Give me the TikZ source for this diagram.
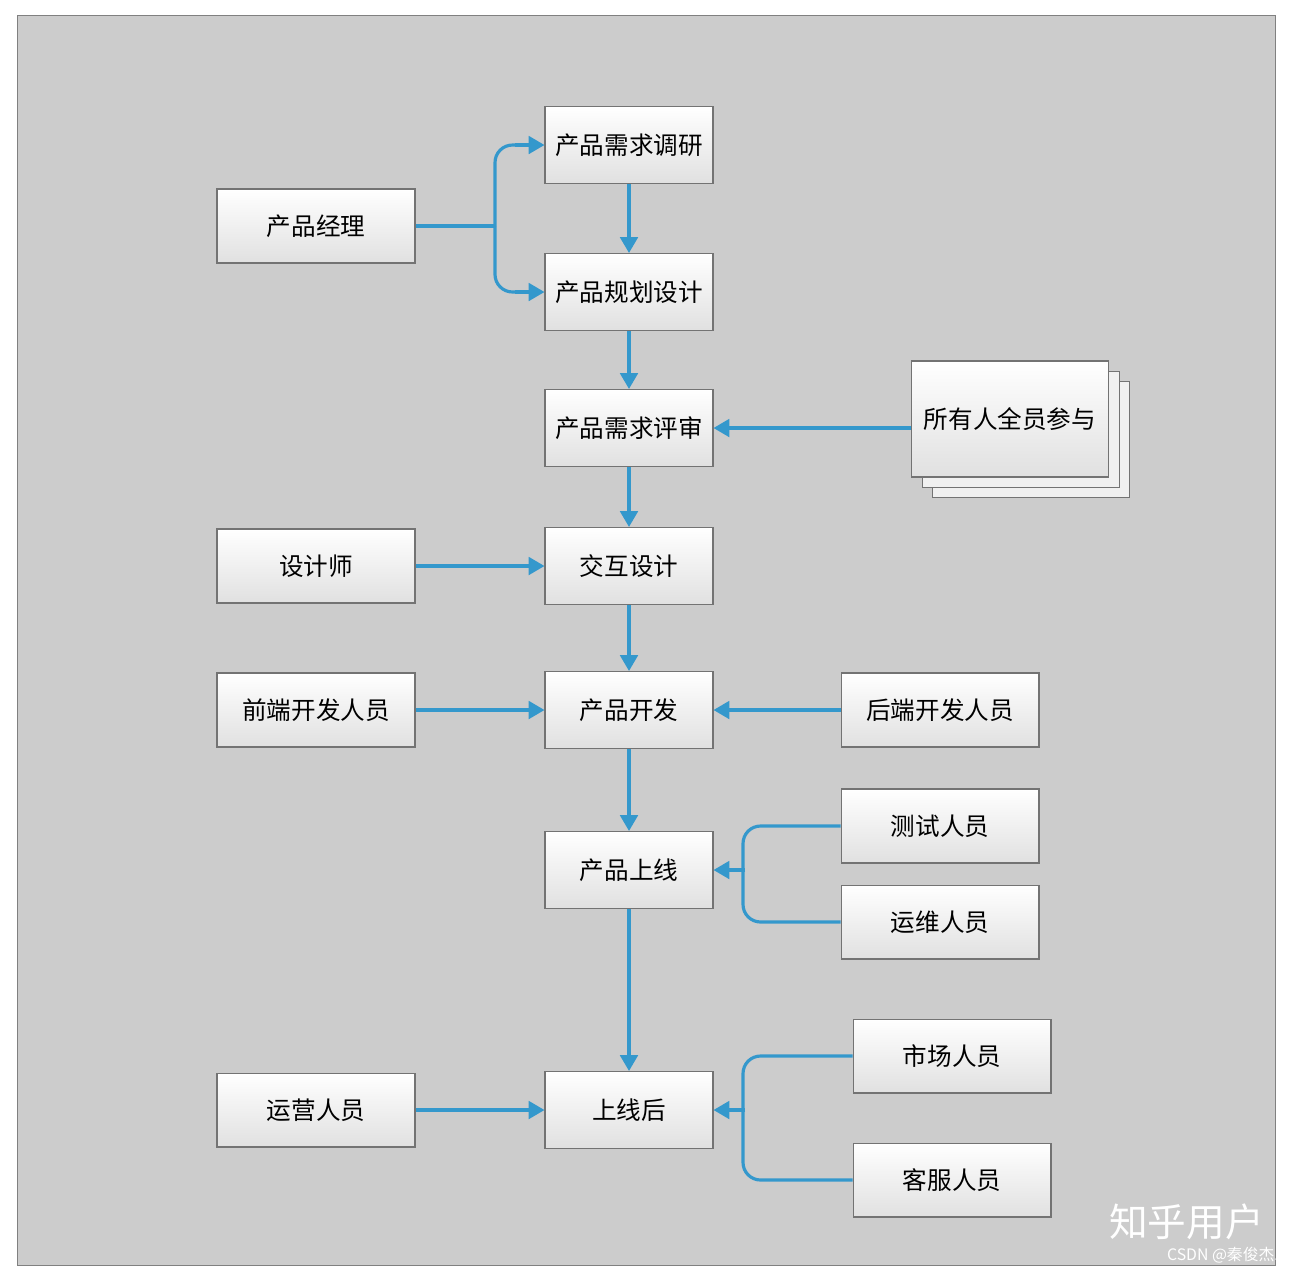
\documentclass[tikz,border=0pt]{standalone}
\usepackage{fontspec}
\setmainfont{Noto Sans CJK SC}
\usetikzlibrary{arrows.meta}
\definecolor{ab}{RGB}{52,152,204}
\definecolor{bg}{RGB}{204,204,204}
\begin{document}
\begin{tikzpicture}[x=0.02cm,y=-0.02cm,
 box/.style={draw=black!55,line width=0.6pt,top color=white,bottom color=black!12,minimum height=1.54cm,minimum width=3.36cm,font=\fontsize{14}{16}\selectfont,inner sep=0pt},
 sbox/.style={box,minimum height=1.48cm,minimum width=3.96cm},
 ar/.style={draw=ab,line width=1.8pt,-{Triangle[length=9pt,width=10pt]}},
 ln/.style={draw=ab,line width=1.8pt,rounded corners=10pt}]
\useasboundingbox (0,0) rectangle (1308,1276);
\fill[white] (0,0) rectangle (1308,1276);
\draw[fill=bg,draw=black!50] (17,15) rectangle (1275,1265);
% main column
\node[box] (a) at (629,145) {产品需求调研};
\node[box] (b) at (629,292) {产品规划设计};
\node[box] (c) at (629,428) {产品需求评审};
\node[box] (d) at (629,566) {交互设计};
\node[box] (e) at (629,710) {产品开发};
\node[box] (f) at (629,870) {产品上线};
\node[box] (g) at (629,1110) {上线后};
% left
\node[sbox] (pm) at (316,226) {产品经理};
\node[sbox] (ds) at (316,566) {设计师};
\node[sbox] (fe) at (316,710) {前端开发人员};
\node[sbox] (op) at (316,1110) {运营人员};
% right
\node[sbox] (be) at (940,710) {后端开发人员};
\node[sbox] (qa) at (940,826) {测试人员};
\node[sbox] (ow) at (940,922) {运维人员};
\node[sbox] (mk) at (952,1056) {市场人员};
\node[sbox] (cs) at (952,1180) {客服人员};
% stacked
\draw[draw=black!55,fill=black!6] (932,381) rectangle (1129,497);
\draw[draw=black!55,fill=black!6] (922,371) rectangle (1119,487);
\node[box,minimum width=3.94cm,minimum height=2.32cm] (all) at (1010,419) {所有人全员参与};
% arrows main
\draw[ar] (a) -- (b);
\draw[ar] (b) -- (c);
\draw[ar] (c) -- (d);
\draw[ar] (d) -- (e);
\draw[ar] (e) -- (f);
\draw[ar] (f) -- (g);
% pm bracket
\coordinate (pj) at (495,226);
\draw[ln] (pm.east) -- (pj);
\draw[ln] (pj) |- (520,145);
\draw[ln] (pj) |- (520,292);
\draw[ar] (515,145) -- (a.west);
\draw[ar] (515,292) -- (b.west);
\draw[ar] (all.west |- c.east) -- (c.east);
\draw[ar] (ds) -- (d);
\draw[ar] (fe) -- (e);
\draw[ar] (be) -- (e);
\draw[ar] (op) -- (g);
% right brackets
\draw[ln] (qa.west) -| (743,870);
\draw[ln] (ow.west) -| (743,870);
\draw[ar] (745,870) -- (f.east);
\draw[ln] (mk.west) -| (743,1110);
\draw[ln] (cs.west) -| (743,1110);
\draw[ar] (745,1110) -- (g.east);
% watermark
\node[white,font=\fontsize{22}{24}\selectfont,anchor=east] (wm) at (1270,1222) {知乎用户};
\node[white,font=\fontsize{9}{10}\selectfont,anchor=east] (wm2) at (1285,1255) {CSDN @秦俊杰.};
\end{tikzpicture}
\end{document}
